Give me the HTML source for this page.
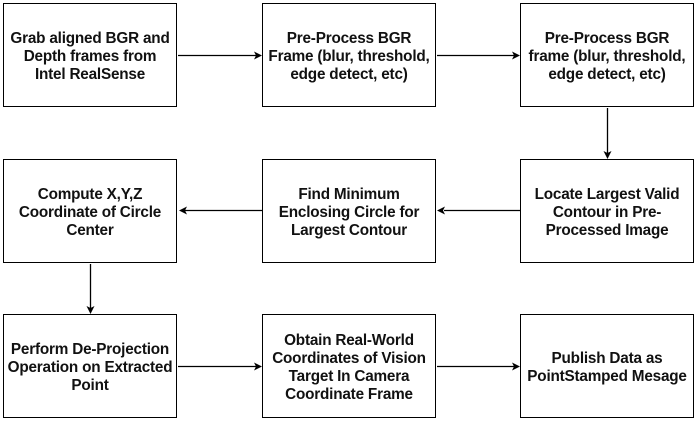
<!DOCTYPE html>
<html><head><style>
body{margin:0;width:699px;height:424px;background:#fff;overflow:hidden;position:relative;font-family:"Liberation Sans",sans-serif}
.b{position:absolute;width:172px;height:98px;padding-top:4px;border:1.5px solid #000;box-sizing:content-box;display:flex;align-items:center;justify-content:center;text-align:center;font-weight:bold;font-size:15.3px;line-height:18px;color:#111;letter-spacing:-0.2px;white-space:nowrap}
svg{position:absolute;left:0;top:0}
</style></head><body>
<div class="b" style="left:3px;top:3px">Grab aligned BGR and<br>Depth frames from<br>Intel RealSense</div>
<div class="b" style="left:262px;top:3px">Pre-Process BGR<br>Frame (blur, threshold,<br>edge detect, etc)</div>
<div class="b" style="left:520px;top:3px">Pre-Process BGR<br>frame (blur, threshold,<br>edge detect, etc)</div>
<div class="b" style="left:3px;top:159px">Compute X,Y,Z<br>Coordinate of Circle<br>Center</div>
<div class="b" style="left:262px;top:159px">Find Minimum<br>Enclosing Circle for<br>Largest Contour</div>
<div class="b" style="left:520px;top:159px">Locate Largest Valid<br>Contour in Pre-<br>Processed Image</div>
<div class="b" style="left:3px;top:314px">Perform De-Projection<br>Operation on Extracted<br>Point</div>
<div class="b" style="left:262px;top:314px">Obtain Real-World<br>Coordinates of Vision<br>Target In Camera<br>Coordinate Frame</div>
<div class="b" style="left:520px;top:314px">Publish Data as<br>PointStamped Mesage</div>
<svg width="699" height="424">
<g stroke="#000" stroke-width="1.3" fill="none">
<line x1="178" y1="55.5" x2="256" y2="55.5"/>
<line x1="437" y1="55.5" x2="514" y2="55.5"/>
<line x1="607.5" y1="108" x2="607.5" y2="153"/>
<line x1="520" y1="210.5" x2="444" y2="210.5"/>
<line x1="262" y1="210.5" x2="185" y2="210.5"/>
<line x1="90.5" y1="264" x2="90.5" y2="308"/>
<line x1="178" y1="366.5" x2="256" y2="366.5"/>
<line x1="437" y1="366.5" x2="514" y2="366.5"/>
</g>
<g fill="#000">
<path d="M262,55.5 l-8,-4 2,4 -2,4z"/>
<path d="M520,55.5 l-8,-4 2,4 -2,4z"/>
<path d="M607.5,159 l-4,-8 4,2 4,-2z"/>
<path d="M437,210.5 l8,-4 -2,4 2,4z"/>
<path d="M179,210.5 l8,-4 -2,4 2,4z"/>
<path d="M90.5,314 l-4,-8 4,2 4,-2z"/>
<path d="M262,366.5 l-8,-4 2,4 -2,4z"/>
<path d="M520,366.5 l-8,-4 2,4 -2,4z"/>
</g>
</svg>
</body></html>
